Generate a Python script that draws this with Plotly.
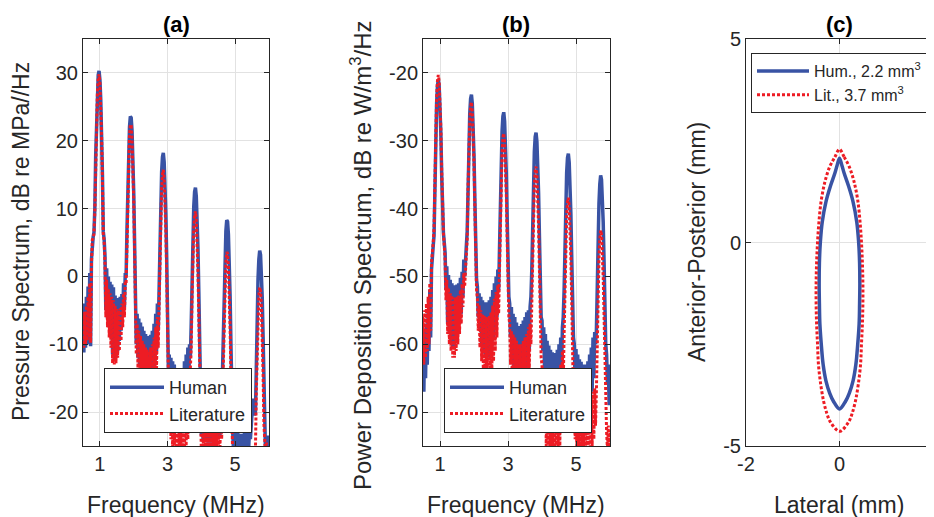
import plotly.graph_objects as go

# frequency sampling shared by panels (a) and (b), MHz
FREQ_MHZ = [
    0.500, 0.525, 0.550, 0.575, 0.600, 0.625, 0.650, 0.675, 0.700, 0.725,
    0.750, 0.775, 0.800, 0.825, 0.850, 0.875, 0.900, 0.925, 0.950, 0.975,
    1.000, 1.025, 1.050, 1.075, 1.100, 1.125, 1.150, 1.175, 1.200, 1.225,
    1.250, 1.275, 1.300, 1.325, 1.350, 1.375, 1.400, 1.425, 1.450, 1.475,
    1.500, 1.525, 1.550, 1.575, 1.600, 1.625, 1.650, 1.675, 1.700, 1.725,
    1.750, 1.775, 1.800, 1.825, 1.850, 1.875, 1.900, 1.925, 1.950, 1.975,
    2.000, 2.025, 2.050, 2.075, 2.100, 2.125, 2.150, 2.175, 2.200, 2.225,
    2.250, 2.275, 2.300, 2.325, 2.350, 2.375, 2.400, 2.425, 2.450, 2.475,
    2.500, 2.525, 2.550, 2.575, 2.600, 2.625, 2.650, 2.675, 2.700, 2.725,
    2.750, 2.775, 2.800, 2.825, 2.850, 2.875, 2.900, 2.925, 2.950, 2.975,
    3.000, 3.025, 3.050, 3.075, 3.100, 3.125, 3.150, 3.175, 3.200, 3.225,
    3.250, 3.275, 3.300, 3.325, 3.350, 3.375, 3.400, 3.425, 3.450, 3.475,
    3.500, 3.525, 3.550, 3.575, 3.600, 3.625, 3.650, 3.675, 3.700, 3.725,
    3.750, 3.775, 3.800, 3.825, 3.850, 3.875, 3.900, 3.925, 3.950, 3.975,
    4.000, 4.025, 4.050, 4.075, 4.100, 4.125, 4.150, 4.175, 4.200, 4.225,
    4.250, 4.275, 4.300, 4.325, 4.350, 4.375, 4.400, 4.425, 4.450, 4.475,
    4.500, 4.525, 4.550, 4.575, 4.600, 4.625, 4.650, 4.675, 4.700, 4.725,
    4.750, 4.775, 4.800, 4.825, 4.850, 4.875, 4.900, 4.925, 4.950, 4.975,
    5.000, 5.025, 5.050, 5.075, 5.100, 5.125, 5.150, 5.175, 5.200, 5.225,
    5.250, 5.275, 5.300, 5.325, 5.350, 5.375, 5.400, 5.425, 5.450, 5.475,
    5.500, 5.525, 5.550, 5.575, 5.600, 5.625, 5.650, 5.675, 5.700, 5.725,
    5.750, 5.775, 5.800, 5.825, 5.850, 5.875, 5.900, 5.925, 5.950, 5.975,
    6.000,
]

# (a) pressure spectrum, dB re MPa//Hz
PRESS_HUM = [
    -5.5, -11.2, -4, -10.5, -3, -10, -1.5, -9.5, 0.5, -10.3,
    2.5, 5.5, 5.8, 6.5, 10.1, 17.7, 23.4, 27.5, 29.7, 30.3,
    29.0, 26.1, 21.3, 14.9, 6.6, 5.5, 3, -5, 1.2, -6.2,
    0, -7.5, -0.8, -9, -1.2, -11.5, -1.6, -12.4, -2.8, -12,
    -3.2, -11, -3.3, -9.5, -3, -8, -2.6, -6, -1, -4.5,
    0.5, 0, 6.8, 13.6, 18.7, 22, 23.6, 23.4, 21.5, 17.8,
    12.4, 5.2, -4, -10, -5.5, -12, -6.2, -13.2, -6.8, -14,
    -7.4, -14.5, -8, -15, -8.5, -15.2, -8.8, -15.3, -9, -15,
    -8.6, -14.6, -8, -14, -7, -13, -5.5, -11, -4, -8,
    -2, 5.6, 11.3, 15.4, 17.6, 18.2, 16.9, 14, 9.2, 2.8,
    -5.5, -14, -11.5, -20, -12, -21, -12.5, -21.5, -13, -22,
    -14, -22.5, -14.8, -23, -15, -23, -14.5, -22.5, -13.5, -22,
    -12.5, -21, -11.5, -19.5, -10.5, -17, -10, -12, -7, 0.5,
    6.2, 10.3, 12.5, 13.1, 11.8, 8.9, 4.1, -2.3, -10.6, -19,
    -23.5, -17.5, -24, -17.5, -24.2, -17.8, -24.3, -18, -24.5, -18,
    -24.5, -18.2, -24.5, -18.2, -24.4, -18, -24.2, -18, -24, -17.8,
    -23.8, -17.5, -23.5, -17, -22, -14, -8.5, -1.7, 3.4, 6.7,
    8.3, 8.1, 6.2, 2.5, -2.9, -10.1, -19, -22.8, -25.5, -22.8,
    -25.5, -23, -25.5, -23, -25.8, -23.2, -25.8, -23.2, -25.8, -23.2,
    -25.8, -23, -25.5, -23, -25.5, -22.8, -25.2, -22.5, -24, -21,
    -19, -18, -19, -20.5, -19.9, -11.6, -5.2, -0.4, 2.5, 3.8,
    3.2, 1, -3.1, -8.8, -16.4, -25.6, -27, -24.5, -24, -23.5,
    -25,
]
PRESS_LIT = [
    -5.8, -10.5, -5.2, -10, -4.3, -9.5, -3, -9, -1, -9.8,
    1.5, 5.4, 5.6, 6.3, 9.6, 17.2, 22.9, 27, 29.2, 29.8,
    28.5, 25.6, 20.8, 14.4, 6.1, 5.3, 2, -6, -0.5, -7.5,
    -1.8, -9, -2.5, -10.5, -3, -12.8, -3.5, -13, -4.3, -12.8,
    -4.8, -12, -5, -11, -4.7, -9.5, -4, -7.5, -2.5, -6,
    -0.8, -1, 5.6, 12.4, 17.5, 20.8, 22.4, 22.2, 20.3, 16.6,
    11.2, 4, -5.5, -11.5, -7, -13.5, -8, -15, -8.8, -16.5,
    -9.5, -17.5, -10, -18, -10.5, -18, -10.8, -17.8, -11, -17.5,
    -10.5, -17, -10, -16.5, -9, -15.5, -7.5, -13.5, -6, -10.5,
    -4.5, 3.1, 8.8, 12.9, 15.1, 15.7, 14.4, 11.5, 6.7, 0.3,
    -8, -17, -22, -16, -24, -16.5, -25.5, -17, -26, -17,
    -26, -17.2, -26.5, -17.5, -26.5, -17.5, -26.5, -17.5, -26, -17.2,
    -26, -17, -25, -16, -24, -14.5, -20, -13.5, -10.5, -3,
    2.7, 6.8, 9, 9.6, 8.3, 5.4, 0.6, -5.8, -14.1, -21,
    -26, -19, -26.5, -19.5, -27, -20, -27, -20, -27, -20,
    -27, -20, -27, -20, -26.8, -20, -26.5, -19.8, -26.5, -19.5,
    -26, -19, -25.5, -18.5, -24, -18, -13.2, -6.4, -1.3, 2,
    3.6, 3.4, 1.5, -2.2, -7.6, -14.8, -23.7, -26, -28, -26.5,
    -28, -26.5, -28.5, -27, -28.5, -27, -29, -27, -29, -27,
    -29, -27, -28.5, -27, -28.5, -27, -28, -26.5, -28, -26.5,
    -28, -26.5, -27.5, -26.5, -25.3, -17, -10.6, -5.8, -2.9, -1.6,
    -2.2, -4.4, -8.5, -14.2, -21.8, -24, -26.5, -24.5, -27, -25,
    -27,
]

# (b) power deposition spectrum, dB re W/m3/Hz
POWER_HUM = [
    -60, -67, -58, -65, -57, -63, -55, -61, -52, -59,
    -49, -46, -45.5, -44, -35, -28.9, -24.5, -21.9, -21, -21.9,
    -24.5, -28.9, -35, -42.9, -43.5, -45, -46.5, -52, -48.5, -57,
    -49.8, -58.5, -50.5, -59.5, -51, -60.7, -51.3, -60.5, -51.3, -59.5,
    -51.2, -58.5, -51, -57, -50.2, -55.5, -49.3, -53, -47.5, -50,
    -46.5, -45.5, -43.4, -35.8, -30.1, -26, -23.8, -23.2, -24.5, -27.4,
    -32.2, -38.6, -47, -50.5, -51.5, -56, -52.5, -58, -53, -60,
    -53.5, -61, -53.8, -61.5, -53.8, -62, -53.8, -62, -53.5, -61.5,
    -53, -60.5, -52, -59, -51, -57.5, -50, -56, -49, -52,
    -46, -38.4, -32.7, -28.6, -26.4, -25.8, -27.1, -30, -34.8, -41.2,
    -50, -53, -54, -59, -54.5, -62, -55.5, -64, -56, -65,
    -56.8, -65.5, -57.3, -66, -57.3, -66, -57, -65.5, -56.5, -65,
    -56, -64, -55.3, -63, -55, -61, -54.5, -53, -49, -41.4,
    -35.7, -31.6, -29.4, -28.8, -30.1, -33, -37.8, -44.2, -52.5, -56,
    -56.5, -61, -57.5, -64, -58.5, -66, -59.5, -67, -60.2, -67.5,
    -60.8, -68, -61.2, -68, -61.5, -68, -61.3, -67.5, -60.8, -67,
    -60, -66, -59, -64, -57.5, -56, -52.1, -44.5, -38.8, -34.7,
    -32.5, -31.9, -33.2, -36.1, -40.9, -47.3, -55.6, -59, -60, -66,
    -60.7, -67, -61.5, -68, -62.2, -69, -62.6, -69.5, -63, -70,
    -63.2, -70, -63, -69.5, -62.5, -69, -61.5, -68, -60.5, -67,
    -59, -65, -58.2, -60, -58, -50.5, -44.1, -39.3, -36.4, -35.1,
    -35.7, -37.9, -42, -47.7, -55.3, -60, -61.5, -66, -63, -69,
    -65,
]
POWER_LIT = [
    -56, -63, -55, -62, -54, -61, -53, -60, -51, -58,
    -48, -45.5, -45, -43, -34.3, -28.2, -23.8, -21.2, -20.3, -21.2,
    -23.8, -28.2, -34.3, -42.2, -43.5, -45.5, -47.5, -53.5, -50.5, -58.5,
    -51.7, -60, -52.5, -61, -52.8, -62, -53.1, -62, -53.1, -61,
    -53, -60, -52.8, -58.5, -52, -57, -51.1, -54.5, -49.5, -51.5,
    -48.5, -46.5, -44.5, -36.9, -31.2, -27.1, -24.9, -24.3, -25.6, -28.5,
    -33.3, -39.7, -48, -52, -53.3, -58, -54.3, -60.5, -55, -62.5,
    -55.6, -64, -55.8, -65, -56, -65.5, -56, -65.5, -55.8, -65,
    -55.3, -64, -54.3, -62.5, -53.3, -61, -52.3, -59, -51.3, -55.5,
    -49.1, -41.5, -35.8, -31.7, -29.5, -28.9, -30.2, -33.1, -37.9, -44.3,
    -52.6, -56, -57, -63, -58, -66, -58.5, -68, -59, -69,
    -59.5, -69.5, -60, -70, -60, -70, -60, -69.5, -59.5, -69,
    -59, -68, -58.5, -66.5, -57.5, -64, -57, -60, -54, -46.4,
    -40.7, -36.6, -34.4, -33.8, -35.1, -38, -42.8, -49.2, -57.5, -62,
    -63, -70, -64, -73, -65, -75, -65.5, -76, -66, -76.5,
    -66, -76.5, -66, -76.5, -66, -76, -65.5, -76, -65, -75.5,
    -64.5, -75, -63, -73, -61, -66, -58.6, -51, -45.3, -41.2,
    -39, -38.4, -39.7, -42.6, -47.4, -53.8, -62.1, -68, -70, -74,
    -69, -75.5, -69.5, -76, -70, -76.5, -70, -76.5, -70, -76.5,
    -70, -76.5, -69.5, -76, -69, -76, -68.5, -75.5, -68, -75,
    -67, -74, -66.5, -72, -66.9, -58.6, -52.2, -47.4, -44.5, -43.2,
    -43.8, -46, -50.1, -55.8, -63.4, -70, -73, -75.5, -72, -76,
    -73,
]

# (c) focal region outlines, mm
HUM_LAT = [0, 0.05, 0.10, 0.19, 0.29, 0.37, 0.41, 0.43, 0.435, 0.43, 0.42, 0.39, 0.35, 0.29, 0.21, 0.13, 0,
           -0.13, -0.21, -0.29, -0.35, -0.39, -0.42, -0.43, -0.435, -0.43, -0.41, -0.37, -0.29, -0.19, -0.10, -0.05, 0]
HUM_AP = [2.07, 1.9, 1.7, 1.4, 1.0, 0.5, 0.0, -0.5, -1.0, -1.5, -2.0, -2.5, -3.0, -3.4, -3.7, -3.9, -4.09,
          -3.9, -3.7, -3.4, -3.0, -2.5, -2.0, -1.5, -1.0, -0.5, 0.0, 0.5, 1.0, 1.4, 1.7, 1.9, 2.07]
LIT_LAT = [0, 0.10, 0.21, 0.31, 0.39, 0.44, 0.47, 0.49, 0.50, 0.50, 0.49, 0.47, 0.45, 0.40, 0.34, 0.27, 0.20, 0,
           -0.20, -0.27, -0.34, -0.40, -0.45, -0.47, -0.49, -0.50, -0.50, -0.49, -0.47, -0.44, -0.39, -0.31, -0.21, -0.10, 0]
LIT_AP = [2.29, 2.1, 1.86, 1.5, 1.04, 0.5, 0.0, -0.5, -1.0, -1.5, -2.0, -2.5, -3.0, -3.5, -3.9, -4.2, -4.4, -4.64,
          -4.4, -4.2, -3.9, -3.5, -3.0, -2.5, -2.0, -1.5, -1.0, -0.5, 0.0, 0.5, 1.04, 1.5, 1.86, 2.1, 2.29]

# tick positions and labels (hyphen minus, as in the original)
FREQ_TICKS = [1, 3, 5]
PRESS_TICKS = [-20, -10, 0, 10, 20, 30]
POWER_TICKS = [-70, -60, -50, -40, -30, -20]
LAT_TICKS = [-2, 0, 2]
AP_TICKS = [-5, 0, 5]

BLUE = '#3953a4'
RED = '#ed1c24'
INK = '#262626'
FONT = 'Liberation Sans'
W, H = 934, 517
OFF = 8  # page body margin of the html page

fig = go.Figure()

def add_pair(xs1, ys1, xs2, ys2, names, xa, ya, leg, shape='linear'):
    fig.add_trace(go.Scatter(x=xs1, y=ys1, mode='lines', name=names[0],
                             line=dict(color=BLUE, width=3.5, shape=shape),
                             xaxis=xa, yaxis=ya, legend=leg))
    fig.add_trace(go.Scatter(x=xs2, y=ys2, mode='lines', name=names[1],
                             line=dict(color=RED, width=3, dash='3px,2px', shape=shape),
                             xaxis=xa, yaxis=ya, legend=leg))

add_pair(FREQ_MHZ, PRESS_HUM, FREQ_MHZ, PRESS_LIT, ['Human', 'Literature'], 'x', 'y', 'legend')
add_pair(FREQ_MHZ, POWER_HUM, FREQ_MHZ, POWER_LIT, ['Human', 'Literature'], 'x2', 'y2', 'legend2')
add_pair(HUM_LAT, HUM_AP, LIT_LAT, LIT_AP,
         ['Hum., 2.2 mm<sup>3</sup>', 'Lit., 3.7 mm<sup>3</sup>'], 'x3', 'y3', 'legend3', shape='spline')

def px_x(p):
    return (p - OFF) / W

def px_y(p):
    return (H - (p - OFF)) / H

def labels(vals):
    return [str(v) for v in vals]

ydom = [px_y(446), px_y(39)]
axis_common = dict(showline=True, mirror='allticks', linecolor=INK, linewidth=1,
                   ticks='inside', ticklen=5, tickcolor=INK, showgrid=True,
                   gridcolor='#e2e2e2', gridwidth=1, zeroline=False, automargin=False,
                   tickfont=dict(family=FONT, size=20, color=INK))

fig.update_layout(
    xaxis=dict(domain=[px_x(83), px_x(269)], range=[0.5, 6], tickvals=FREQ_TICKS,
               ticktext=labels(FREQ_TICKS), anchor='y', **axis_common),
    yaxis=dict(domain=ydom, range=[-25, 35], tickvals=PRESS_TICKS,
               ticktext=labels(PRESS_TICKS), anchor='x', **axis_common),
    xaxis2=dict(domain=[px_x(423), px_x(610)], range=[0.5, 6], tickvals=FREQ_TICKS,
                ticktext=labels(FREQ_TICKS), anchor='y2', **axis_common),
    yaxis2=dict(domain=ydom, range=[-75, -15], tickvals=POWER_TICKS,
                ticktext=labels(POWER_TICKS), anchor='x2', **axis_common),
    xaxis3=dict(domain=[px_x(746), px_x(933)], range=[-2, 2], tickvals=LAT_TICKS,
                ticktext=labels(LAT_TICKS), anchor='y3', **axis_common),
    yaxis3=dict(domain=ydom, range=[-5, 5], tickvals=AP_TICKS,
                ticktext=labels(AP_TICKS), anchor='x3', **axis_common),
)

leg_common = dict(bgcolor='white', bordercolor=INK, borderwidth=1, itemwidth=54,
                  tracegroupgap=0, font=dict(family=FONT, size=18, color=INK))
fig.update_layout(
    showlegend=True,
    legend=dict(x=px_x(252), y=px_y(433), xanchor='right', yanchor='bottom', **leg_common),
    legend2=dict(x=px_x(592), y=px_y(433), xanchor='right', yanchor='bottom', **leg_common),
    legend3=dict(x=px_x(751), y=px_y(53), xanchor='left', yanchor='top',
                 bgcolor='white', bordercolor=INK, borderwidth=1, itemwidth=52,
                 font=dict(family=FONT, size=16, color=INK)),
)

notes = []
def note(text, cx, cy, size, color=INK, angle=0):
    notes.append(dict(text=text, x=px_x(cx), y=px_y(cy), xref='paper', yref='paper',
                      xanchor='center', yanchor='middle', textangle=angle, showarrow=False,
                      font=dict(family=FONT, size=size, color=color)))

for label, cx in [('(a)', 176), ('(b)', 516), ('(c)', 839)]:
    note('<b>' + label + '</b>', cx, 25, 22, 'black')
for label, cx in [('Frequency (MHz)', 176), ('Frequency (MHz)', 516), ('Lateral (mm)', 839)]:
    note(label, cx, 505, 23)
note('Pressure Spectrum, dB re MPa//Hz', 21, 242, 23, angle=-90)
note('Power Deposition Spectrum, dB re W/m<sup>3</sup>/Hz', 361, 255, 24, angle=-90)
note('Anterior-Posterior (mm)', 697, 242, 23, angle=-90)

fig.update_layout(annotations=notes, width=W, height=H,
                  margin=dict(l=0, r=0, t=0, b=0),
                  paper_bgcolor='white', plot_bgcolor='white')

fig.write_html("out.html")
